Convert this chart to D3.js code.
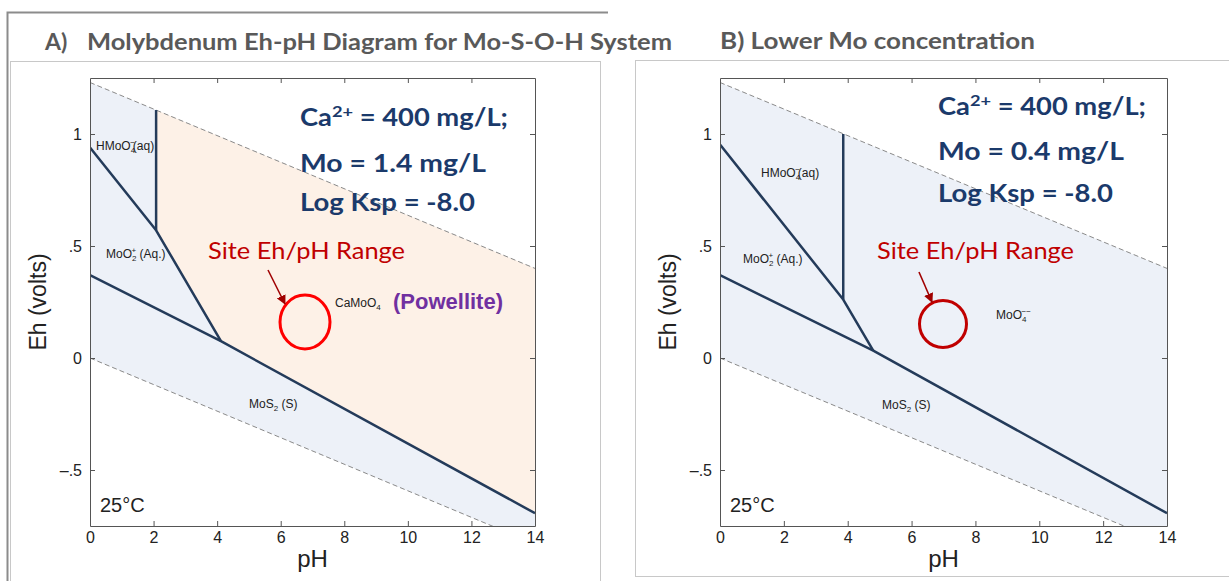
<!DOCTYPE html>
<meta charset="utf-8">
<style>
    body { margin: 0; background: #fff; }
    svg text { font-family: "Liberation Sans", Arial, sans-serif; }
    .title { font-family: Lato, sans-serif; font-weight: bold; fill: #595959; font-size: 23px; }
    .note { font-family: Lato, sans-serif; font-weight: bold; fill: #1b3a6b; font-size: 24px; }
    .site { font-family: Lato, sans-serif; fill: #c00000; font-size: 24px; }
    .species { font-size: 12px; fill: #222; }
    .axis path, .axis line { stroke: #555; }
    .axis text { font-size: 16px; fill: #222; font-family: "Liberation Sans", Arial, sans-serif; }
</style>
<body>
<svg id="chart" width="1229" height="581"></svg>

<script src="https://cdn.jsdelivr.net/npm/d3@7"></script>
<script>
    // axis values
    var pHTicks = [0, 2, 4, 6, 8, 10, 12, 14];
    var ehTicks = [-0.5, 0, 0.5, 1];
    var ehTickLabels = ["\u2013.5", "0", ".5", "1"];

    // water stability limits, [pH, Eh]
    var upperWater = [[0, 1.23], [14, 0.40]];
    var lowerWater = [[0, 0], [14, -0.83]];

    // panel A boundaries (Mo = 1.4 mg/L)
    var sulfideA = [[0, 0.37], [4.12, 0.075], [14, -0.693]];
    var aqueousA = [[0, 0.94], [2.08, 0.57], [4.12, 0.075]];
    var stepA = [[2.08, 0.57], [2.08, 1.107]];
    var powelliteA = [[2.08, 1.107], [14, 0.40], [14, -0.693], [4.12, 0.075], [2.08, 0.57]];

    // panel B boundaries (Mo = 0.4 mg/L)
    var sulfideB = [[0, 0.37], [4.80, 0.033], [14, -0.693]];
    var aqueousB = [[0, 0.953], [3.86, 0.261], [4.80, 0.033]];
    var stepB = [[3.86, 0.261], [3.86, 1.0]];

    var notesA = ["Mo = 1.4 mg/L", "Log Ksp = -8.0"];
    var notesB = ["Mo = 0.4 mg/L", "Log Ksp = -8.0"];

    var svg = d3.select("#chart");

    var blue = "#edf1f8",
        orange = "#fdf1e7",
        navy = "#243b5a";

    // frames
    svg.append("path")
        .attr("d", "M608,12.5H7.5V581")
        .attr("fill", "none").attr("stroke", "#8c8c8c").attr("stroke-width", 2);
    svg.append("rect")
        .attr("x", 10.5).attr("y", 61.5).attr("width", 590).attr("height", 540)
        .attr("fill", "none").attr("stroke", "#c8c8c8");
    svg.append("rect")
        .attr("x", 635.5).attr("y", 60.5).attr("width", 620).attr("height", 516)
        .attr("fill", "none").attr("stroke", "#c8c8c8");

    // titles
    svg.append("text").attr("class", "title").attr("x", 45).attr("y", 50).text("A)");
    svg.append("text").attr("class", "title").attr("x", 87).attr("y", 50)
        .attr("textLength", 585).attr("lengthAdjust", "spacingAndGlyphs")
        .text("Molybdenum Eh-pH Diagram for Mo-S-O-H System");
    svg.append("text").attr("class", "title").attr("x", 720).attr("y", 49)
        .attr("textLength", 315).attr("lengthAdjust", "spacingAndGlyphs")
        .text("B) Lower Mo concentration");

    svg.append("defs").append("marker")
        .attr("id", "arrow")
        .attr("viewBox", "0 0 10 10")
        .attr("refX", 9).attr("refY", 5)
        .attr("markerWidth", 6).attr("markerHeight", 6)
        .attr("orient", "auto")
        .append("path").attr("d", "M0,0L10,5L0,10z").attr("fill", "#a00000");

    function panel(id, xr, o) {
        var g = svg.append("g");
        var x = d3.scaleLinear().domain([0, 14]).range(xr);
        var y = d3.scaleLinear().domain([-0.75, 1.25]).range([526, 78]);
        var line = d3.line().x(function (d) { return x(d[0]); }).y(function (d) { return y(d[1]); });

        svg.select("defs").append("clipPath").attr("id", "clip" + id)
            .append("rect").attr("x", xr[0]).attr("y", 78)
            .attr("width", xr[1] - xr[0]).attr("height", 448);

        var plot = g.append("g").attr("clip-path", "url(#clip" + id + ")");

        // stability field of water
        plot.append("path")
            .attr("d", line(upperWater.concat(lowerWater.slice().reverse())) + "Z")
            .attr("fill", blue);
        if (o.field) {
            plot.append("path").attr("d", line(o.field) + "Z").attr("fill", orange);
        }

        [upperWater, lowerWater].forEach(function (w) {
            plot.append("path").attr("d", line(w))
                .attr("fill", "none").attr("stroke", "#8a8a8a")
                .attr("stroke-width", 1).attr("stroke-dasharray", "5,3");
        });

        [o.sulfide, o.aqueous, o.step].forEach(function (b) {
            plot.append("path").attr("d", line(b))
                .attr("fill", "none").attr("stroke", navy)
                .attr("stroke-width", 2.5).attr("stroke-linejoin", "round");
        });

        // axes, inward ticks on all sides
        g.append("g").attr("class", "axis").attr("transform", "translate(0,526)")
            .call(d3.axisBottom(x).tickValues(pHTicks).tickSizeInner(-5).tickSizeOuter(0).tickPadding(6));
        g.append("g").attr("class", "axis").attr("transform", "translate(0,78)")
            .call(d3.axisTop(x).tickValues(pHTicks.slice(1, -1)).tickSizeInner(-5).tickSizeOuter(0).tickFormat(""));
        g.append("g").attr("class", "axis").attr("transform", "translate(" + xr[0] + ",0)")
            .call(d3.axisLeft(y).tickValues(ehTicks).tickSizeInner(-5).tickSizeOuter(0).tickPadding(8)
                .tickFormat(function (d, i) { return ehTickLabels[i]; }));
        g.append("g").attr("class", "axis").attr("transform", "translate(" + xr[1] + ",0)")
            .call(d3.axisRight(y).tickValues(ehTicks).tickSizeInner(-5).tickSizeOuter(0).tickFormat(""));

        var cx = (xr[0] + xr[1]) / 2;
        g.append("text").attr("x", cx).attr("y", 567).attr("text-anchor", "middle")
            .attr("font-size", 24).attr("fill", "#222").text("pH");
        g.append("text").attr("transform", "translate(" + (xr[0] - 44) + ",302) rotate(-90)")
            .attr("text-anchor", "middle").attr("font-size", 23).attr("fill", "#222").text("Eh (volts)");
        g.append("text").attr("x", xr[0] + 10).attr("y", 512)
            .attr("font-size", 20).attr("fill", "#222").text("25\u00b0C");

        // species labels
        var t = g.append("text").attr("class", "species").attr("x", o.hmo[0]).attr("y", o.hmo[1]);
        t.append("tspan").text("HMoO");
        t.append("tspan").attr("font-size", 8).attr("dy", 3).text("4");
        t.append("tspan").attr("font-size", 8).attr("dx", -5).attr("dy", -8).text("\u2212");
        t.append("tspan").attr("dy", 5).attr("dx", -2).text("(aq)");

        t = g.append("text").attr("class", "species").attr("x", o.moo2[0]).attr("y", o.moo2[1]);
        t.append("tspan").text("MoO");
        t.append("tspan").attr("font-size", 8).attr("dy", 3).text("2");
        t.append("tspan").attr("font-size", 8).attr("dx", -5).attr("dy", -8).text("+");
        t.append("tspan").attr("dy", 5).text(" (Aq.)");

        t = g.append("text").attr("class", "species").attr("x", o.mos2[0]).attr("y", o.mos2[1]);
        t.append("tspan").text("MoS");
        t.append("tspan").attr("font-size", 8).attr("dy", 3).text("2");
        t.append("tspan").attr("dy", -3).text(" (S)");

        // condition notes
        var n = g.append("text").attr("class", "note").attr("x", o.note[0]).attr("y", o.note[1])
            .attr("textLength", 208).attr("lengthAdjust", "spacingAndGlyphs");
        n.append("tspan").text("Ca");
        n.append("tspan").attr("font-size", 16).attr("dy", -9).text("2+");
        n.append("tspan").attr("dy", 9).text(" = 400 mg/L;");
        o.notes.forEach(function (s, i) {
            g.append("text").attr("class", "note").attr("x", o.note[0])
                .attr("y", o.note[1] + o.gap[i])
                .attr("textLength", [186, 175][i]).attr("lengthAdjust", "spacingAndGlyphs")
                .text(s);
        });

        // site range
        g.append("text").attr("class", "site").attr("x", o.site).attr("y", 259)
            .attr("textLength", 197).attr("lengthAdjust", "spacingAndGlyphs")
            .text("Site Eh/pH Range");
        g.append("ellipse").attr("cx", o.ring[0]).attr("cy", o.ring[1])
            .attr("rx", o.ring[2]).attr("ry", o.ring[3])
            .attr("fill", "none").attr("stroke", o.ringColor).attr("stroke-width", 3);
        g.append("line")
            .attr("x1", o.arrow[0]).attr("y1", o.arrow[1])
            .attr("x2", o.arrow[2]).attr("y2", o.arrow[3])
            .attr("stroke", "#a00000").attr("stroke-width", 1.6)
            .attr("marker-end", "url(#arrow)");
        return g;
    }

    var gA = panel("A", [90, 535], {
        field: powelliteA, sulfide: sulfideA, aqueous: aqueousA, step: stepA,
        hmo: [96, 150], moo2: [106, 258], mos2: [249, 408],
        note: [300, 126], gap: [46, 85], notes: notesA,
        site: 208, ring: [305, 322, 25, 27], ringColor: "#ff0000",
        arrow: [268, 270, 285, 304]
    });
    var t = gA.append("text").attr("class", "species").attr("x", 335).attr("y", 307);
    t.append("tspan").text("CaMoO");
    t.append("tspan").attr("font-size", 8).attr("dy", 3).text("4");
    gA.append("text").attr("x", 393).attr("y", 309)
        .attr("font-family", "Lato, sans-serif").attr("font-weight", "bold")
        .attr("font-size", 22).attr("fill", "#7030a0")
        .attr("textLength", 110).attr("lengthAdjust", "spacingAndGlyphs")
        .text("(Powellite)");

    var gB = panel("B", [720, 1167], {
        sulfide: sulfideB, aqueous: aqueousB, step: stepB,
        hmo: [761, 177], moo2: [743, 263], mos2: [882, 409],
        note: [938, 115], gap: [45, 87], notes: notesB,
        site: 877, ring: [943, 324, 23.5, 23.5], ringColor: "#c00000",
        arrow: [919, 272, 932, 302]
    });
    t = gB.append("text").attr("class", "species").attr("x", 996).attr("y", 319);
    t.append("tspan").text("MoO");
    t.append("tspan").attr("font-size", 8).attr("dy", 3).text("4");
    t.append("tspan").attr("font-size", 8).attr("dx", -5).attr("dy", -8).text("\u2212\u2212");
</script>
